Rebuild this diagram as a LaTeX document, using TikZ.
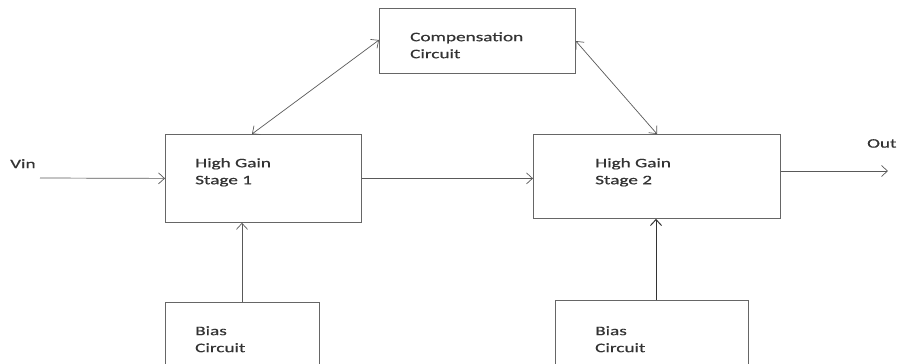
\documentclass[tikz,border=0pt]{standalone}
\usepackage{fontspec}
\setmainfont[FakeStretch=1.48, FakeBold=0.6]{Carlito}
\usetikzlibrary{arrows.meta, calc}

\begin{document}
\begin{tikzpicture}[%
    x=1pt, y=-1pt,
    >={Straight Barb[length=6pt,width=11pt]},
    block/.style = {draw=black!60, line width=0.8pt, inner sep=0pt, anchor=north west},
    lbl/.style = {anchor=north west, inner sep=0pt, align=left,
                  font=\fontsize{13}{17}\selectfont, text=black!80},
    every edge/.style = {draw=black!65, line width=0.7pt, ->}
]
\useasboundingbox (0,0) rectangle (900,364);
% blocks
\node (comp) [block, minimum width=196pt, minimum height=65pt] at (379,8) {};
\node (hg1) [block, minimum width=196pt, minimum height=88pt] at (165,134) {};
\node (hg2) [block, minimum width=247pt, minimum height=84pt] at (533,134) {};
\node (bias1) [block, minimum width=154pt, minimum height=100pt] at (165,302) {};
\node (bias2) [block, minimum width=193pt, minimum height=100pt] at (555,300) {};
% texts
\node (comptxt) [lbl] at (410,32) {Compensation\\Circuit};
\node (hg1txt) [lbl] at (195,158) {High Gain\\Stage 1};
\node (hg2txt) [lbl] at (595,158) {High Gain\\Stage 2};
\node (bias1txt) [lbl] at (195,326) {Bias\\Circuit};
\node (bias2txt) [lbl] at (595,326) {Bias\\Circuit};
\node (vin) [lbl] at (10,159) {Vin};
\node (out) [lbl] at (867,139) {Out};
% connector ends
\coordinate (vinstart) at (40,178);
\coordinate (outend) at (888,171);
\coordinate (c1) at ($(hg1.north west)+(87,0)$);
\coordinate (c2) at ($(hg2.north west)+(124,0)$);
\coordinate (b1) at ($(bias1.north west)+(77,0)$);
\coordinate (b2) at ($(bias2.north west)+(101,0)$);
\path
    (vinstart) edge (hg1.west)
    (hg1.east) edge (hg1.east -| hg2.west)
    (outend -| hg2.east) edge (outend)
    (c1) edge [<->] ($(comp.north west)+(0,32)$)
    (c2) edge [<->] ($(comp.north east)+(0,33)$)
    (b1) edge (b1 |- hg1.south)
    (b2) edge [line width=1pt, draw=black!80] (b2 |- hg2.south);
\end{tikzpicture}
\end{document}
